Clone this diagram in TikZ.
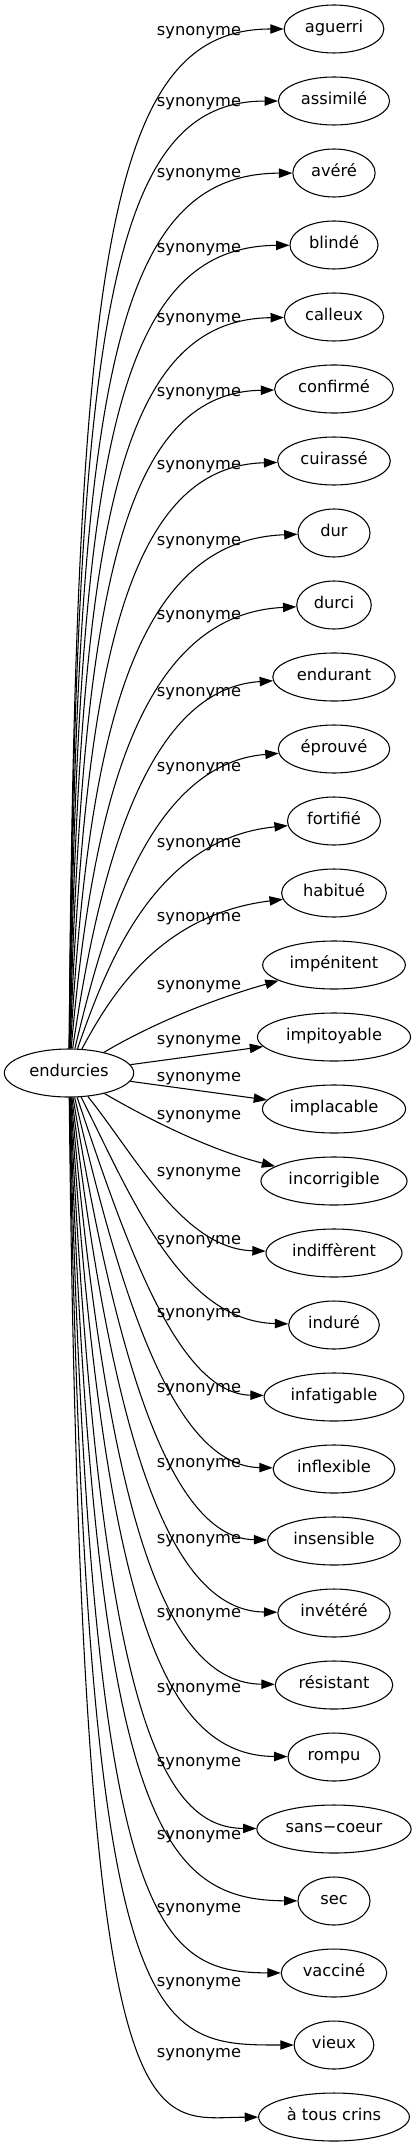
\documentclass[tikz,border=0pt]{standalone}
\usepackage{fontspec}
\setmainfont{DejaVu Sans}
\usetikzlibrary{arrows.meta,shapes.geometric}
\begin{document}
\begin{tikzpicture}[x=0.75pt,y=-0.75pt,
  every node/.style={font=\fontsize{12.2pt}{14pt}\selectfont},
  tgt/.style={draw,ellipse,line width=0.8pt,inner xsep=4.6pt,inner ysep=0pt,
    minimum width=54pt,minimum height=36pt,text height=0.8em,text depth=0.26em},
  lbl/.style={anchor=base,inner sep=0pt},
  edge/.style={line width=0.8pt,-{Triangle[length=10pt,width=7pt]}}]
\useasboundingbox (0,0) rectangle (416,2147);
\node[tgt] (e) at (69,1073) {endurcies};
\foreach \txt/\yl [count=\i from 0] in {aguerri/31,assimilé/102,avéré/173,blindé/248,calleux/318,confirmé/392,cuirassé/465,dur/541,durci/615,endurant/692,éprouvé/767,fortifié/843,habitué/917,impénitent/985,impitoyable/1040,implacable/1077,incorrigible/1115,indiffèrent/1172,induré/1240,infatigable/1313,inflexible/1388,insensible/1463,invétéré/1539,résistant/1613,rompu/1688,sans−coeur/1762,sec/1835,vacciné/1908,vieux/1982,à tous crins/2053}{
  \pgfmathsetmacro{\yt}{29+72*\i}
  \node[tgt] (n\i) at (334,\yt) {\txt};
  \node[lbl] (l\i) at (199,\yl+4.5) {synonyme};
  \ifnum\i<13
    \pgfmathsetmacro{\D}{1050-\yt}
    \pgfmathsetmacro{\g}{1-\D/1021}
    \pgfmathsetmacro{\ax}{75+50*\g*\g}
    \pgfmathsetmacro{\ay}{min(\yt+220,1050-0.35*\D)}
    \pgfmathsetmacro{\bx}{110+70*\g*\g}
    \pgfmathsetmacro{\by}{\yt+30*\g*\g}
    \draw[edge] (e) .. controls (\ax,\ay) and (\bx,\by) .. (n\i);
  \else\ifnum\i=13
    \draw[edge] (e) .. controls (150,1025) and (210,1000) .. (n\i);
  \else\ifnum\i<16
    \draw[edge] (e) -- (n\i);
  \else\ifnum\i=16
    \draw[edge] (e) .. controls (150,1120) and (210,1150) .. (n\i);
  \else
    \pgfmathsetmacro{\D}{\yt-1097}
    \pgfmathsetmacro{\f}{\D/948}
    \pgfmathsetmacro{\g}{1-\f}
    \pgfmathsetmacro{\ax}{85+60*\g}
    \pgfmathsetmacro{\ay}{1097+(0.25+0.75*\f)*\D}
    \pgfmathsetmacro{\bx}{150+40*\g}
    \pgfmathsetmacro{\by}{\yt-5*\g}
    \draw[edge] (e) .. controls (\ax,\ay) and (\bx,\by) .. (n\i);
  \fi\fi\fi\fi
}
\end{tikzpicture}
\end{document}
